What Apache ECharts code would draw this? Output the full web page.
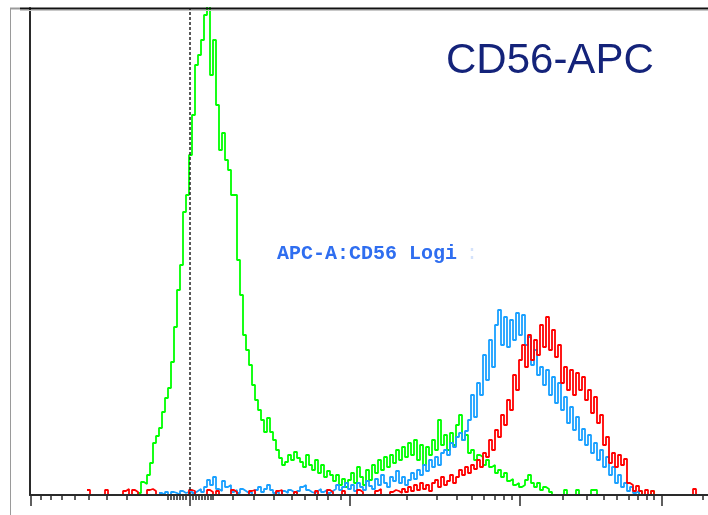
<!DOCTYPE html>
<html>
<head>
<meta charset="utf-8">
<script src="https://cdn.jsdelivr.net/npm/echarts@6/dist/echarts.min.js"></script>
<style>
html,body{margin:0;padding:0;background:#fff;}
#chart{width:708px;height:515px;}
</style>
</head>
<body>
<div id="chart"></div>
<script>
// Histogram bins (x axis in display channel units, bin width 3)
const binWidth = 3;
const greenStart = 108;
const blueStart = 129;
const redStart = 57;

const greenCounts = [2,13,11,20,32,52,59,67,83,97,107,133,168,205,230,283,300,340,380,430,440,455,480,
  495,420,455,390,345,362,335,325,300,300,235,200,160,145,130,110,95,85,75,63,77,63,55,45,37,30,33,40,35,43,37,33,
  28,40,30,25,35,22,30,18,24,20,14,20,10,16,8,15,22,12,28,18,10,25,15,30,22,35,25,38,28,40,32,45,35,48,38,52,
  40,55,35,50,30,48,40,55,45,75,50,60,45,62,50,70,80,55,60,42,45,35,40,38,30,35,28,30,22,25,18,22,14,16,10,12,8,10,
  15,20,12,8,12,5,8,6,3,0,0,0,0,5,0,0,0,5,0,0,0,0,5,5,0,0,0,0,0,0,0,0,0,0,0,0,0,0,4,0,0,0,4,0];

const blueCounts = [2,0,3,0,3,2,0,4,2,3,5,2,4,6,3,8,15,10,18,6,4,14,8,10,3,5,2,6,4,2,3,0,5,8,3,6,10,5,2,3,0,4,2,5,3,0,
  4,8,10,5,3,2,4,6,3,5,2,4,6,10,5,8,12,6,10,4,12,8,5,14,9,6,16,10,20,12,8,18,14,24,12,18,10,15,22,16,25,20,30,24,
  35,28,38,30,42,45,40,52,48,58,62,55,64,
  75,100,78,112,100,140,115,155,128,170,185,150,178,148,175,155,182,160,180,150,158,130,145,120,128,110,125,100,118,
  92,112,85,98,72,88,65,78,55,66,50,60,42,52,35,45,28,38,20,28,12,20,8,12,4,8,2,4,0];

const redCounts = [5,0,0,0,0,0,5,0,0,0,0,0,4,6,0,5,3,0,0,0,5,6,4,0,0,0,0,0,0,0,0,0,0,0,5,4,0,0,0,0,5,3,0,4,0,0,0,0,
  5,3,0,0,0,0,4,5,0,0,0,0,0,0,0,4,5,0,0,0,0,3,0,0,0,0,0,0,4,0,0,0,5,3,0,0,0,4,0,0,0,0,5,3,0,0,0,0,4,6,0,0,0,
  3,5,4,2,6,3,8,4,10,5,12,6,10,4,12,15,8,18,10,14,20,12,18,25,20,28,22,30,26,35,
  28,42,38,55,45,65,58,80,70,95,85,120,105,135,150,128,160,135,155,140,170,148,178,145,165,138,150,112,128,105,125,
  100,122,105,118,95,105,82,98,72,80,50,58,32,42,28,40,30,36,12,10,4,9,4,
  0,5,0,4,0,0,0,0,0,0,0,0,0,0,0,0,0,6,0];

// Axis ticks (display channel units)
const majorTicks = [1, 160, 320, 490, 632];
const minorTicks = [11,21,32,45,59,77,97,138,141,144,147,150,153,156,163,166,169,172,175,178,181,183,
  203,224,244,262,275,287,298,311,377,407,427,442,454,465,474,482,533,557,574,587,599,608,617,624,673];
const gateValue = 160;

const title = 'CD56-APC';
const axisName = 'APC-A:CD56 Logi';

const xMax = 678;
const yMax = 487;

function toPairs(start, counts){
  return counts.map((v,i)=>[start + i*binWidth, v]);
}

const chart = echarts.init(document.getElementById('chart'), null, {renderer:'canvas'});
const axisColor = '#2a2a2a';
function baseX(extra){
  return Object.assign({
    type:'value', min:0, max:xMax, position:'bottom', z:5,
    axisLabel:{show:false}, splitLine:{show:false}
  }, extra);
}
chart.setOption({
  animation:false,
  grid:{left:30, right:0, top:8, bottom:20},
  xAxis:[
    baseX({
      axisLine:{show:true, lineStyle:{color:axisColor, width:2}},
      axisTick:{show:true, customValues:majorTicks, length:11, lineStyle:{color:axisColor, width:1.5}}
    }),
    baseX({
      axisLine:{show:false},
      axisTick:{show:true, customValues:minorTicks, length:5, lineStyle:{color:axisColor, width:1.5}}
    })
  ],
  yAxis:{
    type:'value', min:0, max:yMax, z:5,
    axisLine:{show:true, lineStyle:{color:axisColor, width:2}},
    axisTick:{show:false}, axisLabel:{show:false}, splitLine:{show:false}
  },
  series:[
    {type:'line', step:'end', data:toPairs(greenStart, greenCounts), showSymbol:false, symbol:'none',
     lineStyle:{color:'#00ff00', width:1.8}, z:2,
     markLine:{silent:true, symbol:'none', label:{show:false},
       lineStyle:{color:'#222', width:1.5, type:[3,2]},
       data:[{xAxis:gateValue}]}},
    {type:'line', step:'end', data:toPairs(blueStart, blueCounts), showSymbol:false, symbol:'none',
     lineStyle:{color:'#1aa0ff', width:1.8}, z:3},
    {type:'line', step:'end', data:toPairs(redStart, redCounts), showSymbol:false, symbol:'none',
     lineStyle:{color:'#ff0000', width:1.8}, z:4}
  ],
  graphic:[
    {type:'line', z:100, shape:{x1:10.5, y1:8, x2:10.5, y2:515}, style:{stroke:'#9a9a9a', lineWidth:1}},
    {type:'line', z:100, shape:{x1:10, y1:8.5, x2:20, y2:8.5}, style:{stroke:'#9a9a9a', lineWidth:2}},
    {type:'line', z:100, shape:{x1:20, y1:8.5, x2:708, y2:8.5}, style:{stroke:'#111', lineWidth:2}},
    {type:'line', z:100, shape:{x1:20, y1:10.5, x2:708, y2:10.5}, style:{stroke:'#c8c8c8', lineWidth:1}},
    {type:'text', z:100, style:{text:title, x:446, y:61, font:'42px "Liberation Sans", Arial, sans-serif',
      fill:'#14237a', textAlign:'left', verticalAlign:'middle'}},
    {type:'text', z:100, style:{text:axisName, x:277, y:254, font:'bold 20px "Liberation Mono", monospace',
      fill:'#2f6ef0', textAlign:'left', verticalAlign:'middle'}},
    {type:'text', z:100, style:{text:':', x:466, y:254, font:'20px "Liberation Mono", monospace',
      fill:'#d4e2fb', textAlign:'left', verticalAlign:'middle'}}
  ]
});
</script>
</body>
</html>
